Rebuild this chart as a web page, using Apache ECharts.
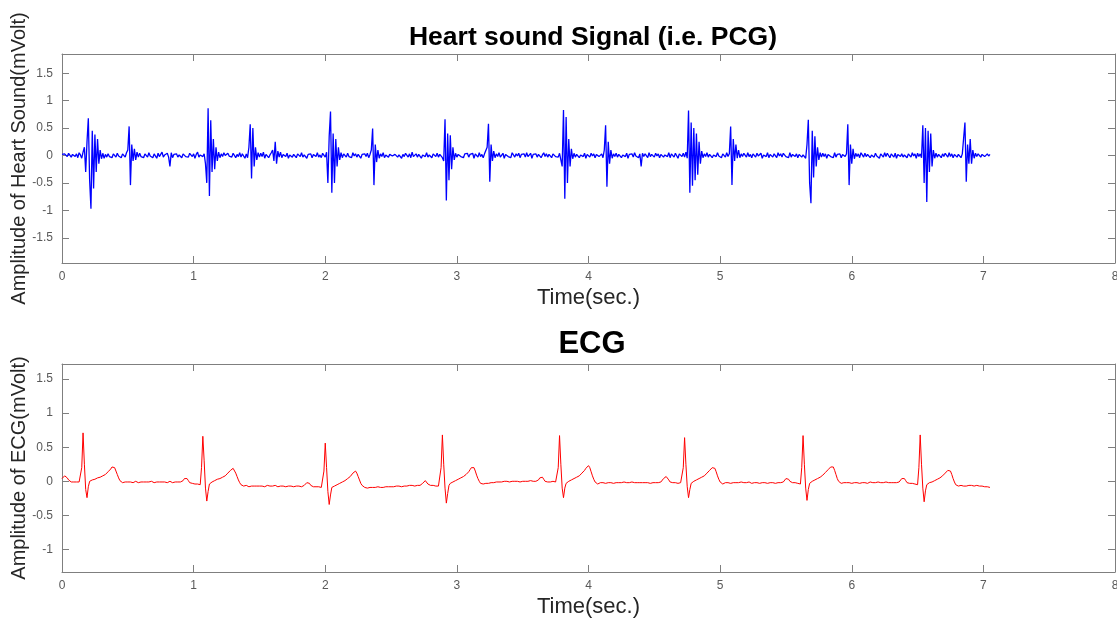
<!DOCTYPE html>
<html><head><meta charset="utf-8">
<script src="https://cdn.jsdelivr.net/npm/echarts@6/dist/echarts.min.js"></script>
<style>html,body{margin:0;padding:0;background:#fff}#c{width:1117px;height:623px}</style>
</head><body><div id="c"></div>
<script>
// sample spacing of both recordings, seconds
const sampleStep = 0.01;
const xTicks = [0, 1, 2, 3, 4, 5, 6, 7, 8];
const pcgTicks = [-1.5, -1, -0.5, 0, 0.5, 1, 1.5];
const ecgTicks = [-1, -0.5, 0, 0.5, 1, 1.5];

// Heart sound (PCG) amplitude, one row per 0.1 s
const pcgAmp = [
0.02,-0.01,0.03,0.00,-0.02,0.04,0.01,-0.03,0.02,0.00,
-0.02,0.03,-0.04,0.05,0.01,-0.05,0.06,0.15,-0.30,0.25,
0.68,-0.45,-0.97,0.45,-0.60,0.38,-0.30,0.30,-0.15,0.10,
-0.06,0.04,-0.05,0.02,-0.03,0.03,-0.02,0.01,-0.04,0.03,
0.00,-0.03,0.04,-0.01,0.02,-0.04,0.03,0.01,-0.03,0.05,
0.10,0.53,-0.54,0.20,-0.10,0.12,-0.08,0.06,-0.03,0.04,
-0.02,0.01,-0.04,0.03,0.02,-0.03,0.05,-0.01,0.02,-0.04,
0.03,0.00,-0.05,0.04,-0.02,0.02,0.06,-0.03,0.01,-0.02,
0.04,-0.03,-0.20,0.05,-0.04,0.02,-0.01,0.03,-0.03,0.01,
0.02,-0.04,0.03,0.05,-0.02,0.00,-0.03,0.04,0.01,-0.02,
0.03,-0.05,0.02,0.06,-0.03,0.01,0.04,-0.02,0.03,-0.15,
-0.50,0.86,-0.74,0.64,-0.30,0.30,-0.25,0.15,-0.10,0.06,
-0.04,0.03,-0.02,0.05,0.00,-0.03,0.04,-0.01,0.02,-0.03,
0.04,0.01,-0.04,0.02,-0.02,0.05,-0.03,0.03,0.01,-0.05,
0.03,-0.04,0.15,0.57,-0.42,0.50,-0.20,0.15,-0.08,0.05,
-0.03,0.04,-0.02,0.06,-0.05,0.02,0.03,-0.04,0.01,0.05,
0.10,-0.10,0.25,-0.15,0.08,-0.03,0.06,-0.04,0.02,0.03,
-0.02,0.04,-0.05,0.01,0.03,-0.03,0.02,0.00,-0.04,0.03,
0.02,-0.02,0.05,-0.03,0.01,0.04,-0.05,0.02,-0.01,0.03,
-0.04,0.02,0.03,-0.02,0.05,-0.03,0.01,-0.04,0.04,0.02,
-0.03,0.06,-0.50,0.35,0.80,-0.68,0.40,-0.50,0.30,-0.20,
0.15,-0.08,0.05,-0.04,0.03,0.02,-0.03,0.04,-0.02,0.01,
-0.04,0.05,-0.01,0.03,-0.03,0.02,0.04,-0.05,0.02,0.00,
0.03,-0.02,0.04,-0.04,0.02,0.10,0.49,-0.54,0.20,-0.12,
0.10,-0.05,0.03,-0.02,0.05,-0.04,0.01,0.03,-0.03,0.02,
0.04,-0.01,-0.04,0.02,0.05,-0.03,0.01,0.03,-0.05,0.02,
-0.02,0.04,0.01,-0.03,0.03,-0.04,0.06,-0.02,0.00,0.03,
-0.03,0.02,0.04,-0.05,0.01,0.03,-0.02,0.05,-0.03,0.01,
0.02,-0.04,0.03,0.00,-0.02,0.04,-0.03,0.02,0.05,-0.04,
-0.10,0.66,-0.82,0.40,-0.45,0.37,-0.25,0.15,-0.08,0.04,
-0.03,0.02,0.05,-0.02,0.01,-0.04,0.03,0.00,0.04,-0.03,
0.02,-0.01,0.04,-0.05,0.03,0.01,-0.03,0.05,-0.02,0.02,
-0.04,0.03,0.01,0.15,0.58,-0.48,0.20,-0.10,0.08,-0.04,
0.03,-0.02,0.05,-0.03,0.00,0.04,-0.05,0.02,0.03,-0.02,
0.01,-0.04,0.05,0.02,-0.03,0.03,-0.01,0.04,-0.04,0.02,
0.00,0.03,-0.03,0.05,-0.02,0.01,0.04,-0.05,0.02,-0.01,
0.03,-0.03,0.02,0.04,-0.04,0.01,0.05,-0.02,0.03,-0.03,
0.02,0.00,-0.04,0.03,0.05,-0.02,0.01,-0.03,0.04,0.02,
-0.20,0.83,-0.79,0.70,-0.50,0.30,-0.20,0.12,-0.06,0.04,
-0.03,0.02,0.05,-0.04,0.01,0.03,-0.02,0.04,-0.05,0.02,
0.01,-0.03,0.04,-0.01,0.03,-0.04,0.02,0.05,-0.02,0.00,
0.03,-0.04,0.10,0.55,-0.57,0.25,-0.15,0.10,-0.05,0.03,
-0.02,0.04,-0.03,0.02,0.05,-0.04,0.01,0.03,-0.02,0.04,
-0.05,0.02,0.00,0.03,-0.03,0.05,-0.01,0.02,-0.04,0.03,
-0.20,0.04,-0.02,0.03,0.01,-0.04,0.05,-0.02,0.02,0.00,
-0.03,0.04,-0.01,0.03,-0.04,0.02,0.05,-0.03,0.01,0.02,
-0.02,0.05,-0.04,0.03,0.00,-0.03,0.04,0.02,-0.05,0.03,
0.01,-0.02,0.04,-0.03,0.06,-0.05,0.82,-0.68,0.60,-0.55,
0.50,-0.45,0.40,-0.35,0.25,-0.15,0.08,-0.04,0.03,-0.02,
0.05,-0.03,0.02,0.04,-0.04,0.01,0.03,-0.02,0.05,-0.01,
0.02,-0.04,0.03,0.00,-0.03,0.05,-0.02,0.03,0.53,-0.54,
0.30,-0.10,0.20,-0.05,0.10,-0.04,0.03,-0.02,0.04,0.01,
-0.03,0.05,-0.02,0.02,-0.04,0.03,0.01,-0.03,0.04,-0.01,
0.02,0.04,-0.05,0.01,0.03,-0.02,0.05,-0.04,0.02,0.00,
-0.03,0.03,0.02,-0.04,0.05,-0.01,0.03,-0.03,0.04,0.02,
-0.02,0.01,-0.04,0.05,-0.03,0.02,0.04,-0.02,0.03,-0.04,
0.02,0.05,-0.03,0.01,0.04,-0.05,0.20,0.65,-0.50,-0.87,
0.45,-0.40,0.35,-0.20,0.15,-0.08,0.05,-0.03,0.04,-0.02,
0.03,-0.05,0.02,0.04,-0.02,0.01,-0.04,0.05,-0.03,0.02,
0.00,0.03,-0.04,0.02,0.05,-0.02,0.03,0.57,-0.54,0.20,
-0.15,0.12,-0.06,0.04,-0.02,0.03,-0.04,0.05,0.01,-0.03,
0.04,-0.02,0.02,0.05,-0.04,0.01,0.03,-0.03,0.04,-0.01,
0.02,-0.05,0.03,0.01,-0.03,0.05,-0.02,0.04,0.00,-0.04,
0.03,0.02,-0.03,0.04,-0.05,0.02,0.05,-0.02,0.03,-0.03,
0.01,0.04,-0.04,0.03,0.02,-0.03,0.05,-0.01,0.03,-0.05,
0.04,-0.02,0.03,-0.04,0.55,-0.50,0.50,-0.85,0.45,-0.30,
0.40,-0.20,0.10,-0.05,0.04,-0.03,0.02,0.05,-0.04,0.03,
-0.02,0.04,0.01,-0.03,0.05,-0.02,0.03,-0.04,0.02,0.04,
-0.03,0.02,0.05,-0.04,0.03,0.01,0.60,-0.48,0.20,-0.15,
0.30,-0.15,0.10,-0.05,0.04,-0.02,0.03,0.01,-0.03,0.02,
0.04,-0.02,0.01,0.03,-0.01,0.02
];

// ECG amplitude, one row per 0.1 s
const ecgAmp = [
0.04,0.06,0.08,0.07,0.05,0.02,0.00,-0.01,0.00,-0.01,
0.00,-0.01,0.00,-0.01,-0.03,0.20,0.71,0.25,-0.12,-0.24,
-0.08,0.00,0.01,0.02,0.02,0.03,0.04,0.05,0.05,0.06,
0.07,0.08,0.09,0.10,0.12,0.14,0.16,0.18,0.21,0.22,
0.20,0.15,0.10,0.05,0.01,-0.01,-0.02,-0.02,-0.01,-0.02,
-0.01,-0.02,-0.01,-0.01,-0.02,-0.01,0.00,-0.01,-0.02,-0.01,
-0.01,-0.02,-0.01,0.00,-0.01,-0.02,-0.01,-0.01,0.00,-0.01,
-0.02,-0.01,-0.01,-0.02,-0.01,0.00,-0.01,-0.02,-0.01,-0.01,
-0.02,-0.01,0.00,-0.01,-0.02,-0.01,-0.01,-0.02,-0.01,0.00,
-0.01,-0.01,0.01,0.04,0.06,0.04,0.01,-0.02,-0.03,-0.03,
-0.03,-0.04,-0.03,-0.04,-0.03,-0.05,0.20,0.66,0.30,-0.10,
-0.29,-0.15,-0.04,-0.02,-0.01,0.00,0.01,0.02,0.03,0.04,
0.04,0.05,0.06,0.07,0.08,0.10,0.12,0.14,0.16,0.18,
0.19,0.17,0.12,0.07,0.02,-0.02,-0.05,-0.06,-0.07,-0.07,
-0.06,-0.07,-0.08,-0.07,-0.07,-0.06,-0.07,-0.08,-0.07,-0.07,
-0.07,-0.06,-0.07,-0.07,-0.08,-0.07,-0.06,-0.07,-0.07,-0.08,
-0.07,-0.07,-0.06,-0.07,-0.08,-0.07,-0.07,-0.06,-0.07,-0.07,
-0.08,-0.07,-0.07,-0.06,-0.07,-0.07,-0.08,-0.07,-0.07,-0.06,
-0.07,-0.07,-0.08,-0.07,-0.06,-0.04,-0.02,-0.01,-0.03,-0.06,
-0.08,-0.08,-0.09,-0.08,-0.09,-0.08,-0.09,-0.09,-0.10,0.15,
0.56,0.20,-0.15,-0.34,-0.20,-0.09,-0.08,-0.07,-0.06,-0.05,
-0.04,-0.03,-0.02,-0.01,0.00,0.01,0.02,0.04,0.05,0.07,
0.09,0.12,0.14,0.15,0.12,0.07,0.02,-0.03,-0.06,-0.08,
-0.09,-0.09,-0.10,-0.09,-0.09,-0.10,-0.09,-0.08,-0.09,-0.09,
-0.08,-0.09,-0.09,-0.08,-0.09,-0.08,-0.08,-0.09,-0.08,-0.08,
-0.08,-0.07,-0.08,-0.08,-0.07,-0.08,-0.07,-0.07,-0.08,-0.07,
-0.07,-0.06,-0.07,-0.07,-0.06,-0.07,-0.06,-0.06,-0.07,-0.06,
-0.06,-0.05,-0.06,-0.05,-0.03,-0.01,0.01,-0.01,-0.04,-0.06,
-0.06,-0.07,-0.06,-0.07,-0.07,-0.06,-0.07,-0.08,0.20,0.68,
0.25,-0.10,-0.32,-0.18,-0.06,-0.03,-0.02,-0.01,0.00,0.01,
0.02,0.03,0.04,0.05,0.06,0.07,0.08,0.10,0.12,0.14,
0.17,0.20,0.22,0.20,0.15,0.09,0.04,0.00,-0.03,-0.04,
-0.04,-0.03,-0.03,-0.02,-0.03,-0.02,-0.02,-0.01,-0.02,-0.01,
-0.01,-0.02,-0.01,0.00,-0.01,-0.01,0.00,-0.01,0.00,0.00,
-0.01,0.00,0.00,-0.01,0.00,0.01,0.00,0.00,-0.01,0.00,
0.00,0.01,0.00,-0.01,0.00,0.00,0.01,0.00,0.00,-0.01,
0.00,0.00,0.02,0.05,0.07,0.06,0.03,0.00,-0.01,-0.01,
0.00,-0.01,-0.01,0.00,-0.01,-0.01,-0.03,0.20,0.67,0.25,
-0.10,-0.24,-0.10,-0.03,-0.01,0.00,0.01,0.02,0.03,0.04,
0.05,0.06,0.07,0.08,0.10,0.12,0.14,0.16,0.19,0.21,
0.23,0.20,0.14,0.08,0.03,-0.01,-0.03,-0.04,-0.03,-0.02,
-0.03,-0.02,-0.02,-0.03,-0.02,-0.02,-0.01,-0.02,-0.02,-0.03,
-0.02,-0.02,-0.01,-0.02,-0.03,-0.02,-0.02,-0.01,-0.02,-0.02,
-0.03,-0.02,-0.02,-0.01,-0.02,-0.02,-0.03,-0.02,-0.01,-0.02,
-0.02,-0.02,-0.03,-0.02,-0.01,-0.02,-0.02,-0.03,-0.02,-0.02,
-0.01,-0.02,-0.02,-0.02,-0.01,-0.01,0.01,0.04,0.06,0.07,
0.05,0.02,-0.01,-0.02,-0.02,-0.03,-0.02,-0.02,-0.03,-0.02,
-0.02,-0.04,0.20,0.64,0.25,-0.08,-0.24,-0.12,-0.03,-0.01,
0.00,0.01,0.02,0.03,0.04,0.05,0.06,0.07,0.08,0.10,
0.12,0.14,0.16,0.18,0.20,0.21,0.19,0.14,0.08,0.03,
-0.01,-0.03,-0.04,-0.03,-0.02,-0.03,-0.02,-0.02,-0.03,-0.02,
-0.02,-0.01,-0.02,-0.03,-0.02,-0.02,-0.01,-0.02,-0.02,-0.03,
-0.02,-0.02,-0.01,-0.02,-0.03,-0.02,-0.02,-0.01,-0.02,-0.02,
-0.03,-0.02,-0.02,-0.01,-0.02,-0.02,-0.03,-0.02,-0.02,-0.01,
-0.02,-0.02,-0.03,-0.02,-0.02,-0.01,-0.02,-0.02,-0.01,0.01,
0.04,0.05,0.03,0.00,-0.02,-0.02,-0.03,-0.02,-0.02,-0.03,
-0.02,-0.04,0.20,0.67,0.25,-0.10,-0.28,-0.12,-0.03,-0.01,
0.00,0.01,0.02,0.03,0.04,0.05,0.06,0.07,0.09,0.11,
0.13,0.15,0.17,0.19,0.21,0.23,0.21,0.16,0.10,0.04,
0.00,-0.02,-0.03,-0.02,-0.02,-0.03,-0.02,-0.01,-0.02,-0.02,
-0.03,-0.02,-0.02,-0.01,-0.02,-0.02,-0.03,-0.02,-0.02,-0.01,
-0.02,-0.02,-0.03,-0.02,-0.01,-0.02,-0.02,-0.03,-0.02,-0.02,
-0.01,-0.02,-0.02,-0.03,-0.02,-0.02,-0.01,-0.02,-0.02,-0.03,
-0.02,-0.02,-0.02,-0.01,-0.02,-0.02,-0.01,0.01,0.04,0.06,
0.04,0.01,-0.02,-0.03,-0.03,-0.02,-0.03,-0.03,-0.04,-0.03,
-0.05,0.20,0.68,0.25,-0.10,-0.30,-0.14,-0.05,-0.03,-0.02,
-0.02,-0.01,0.00,0.01,0.02,0.03,0.04,0.05,0.06,0.08,
0.10,0.12,0.14,0.16,0.17,0.15,0.10,0.04,-0.01,-0.05,
-0.06,-0.07,-0.07,-0.06,-0.07,-0.07,-0.06,-0.07,-0.07,-0.06,
-0.07,-0.06,-0.07,-0.07,-0.06,-0.06,-0.07,-0.07,-0.06,-0.07,
-0.07,-0.08,-0.07,-0.08,-0.08,-0.09
];

const axisColor = '#7f7f7f';
const labelColor = '#595959';
const font = 'Liberation Sans, Arial, Helvetica, sans-serif';

function toPairs(arr) {
  return arr.map((v, i) => [+(i * sampleStep).toFixed(2), v]);
}

function xAxisPair(grid) {
  const base = {
    gridIndex: grid, type: 'value', min: xTicks[0], max: xTicks[xTicks.length - 1], interval: 1,
    axisLine: { show: true, onZero: false, lineStyle: { color: axisColor, width: 1 } },
    axisTick: { show: true, inside: true, length: 7, lineStyle: { color: axisColor } },
    splitLine: { show: false }
  };
  return [
    Object.assign({}, base, {
      position: 'bottom',
      axisLabel: { color: labelColor, fontSize: 12, fontFamily: font, margin: 8 },
      name: 'Time(sec.)', nameLocation: 'middle', nameGap: 24, nameMoveOverlap: false,
      nameTextStyle: { fontSize: 22, color: '#262626', fontFamily: font }
    }),
    Object.assign({}, base, { position: 'top', axisLabel: { show: false } })
  ];
}

function yAxisPair(grid, min, max, ticks, name) {
  const base = {
    gridIndex: grid, type: 'value', min: min, max: max,
    axisLine: { show: true, onZero: false, lineStyle: { color: axisColor, width: 1 } },
    axisTick: { show: true, inside: true, length: 7, customValues: ticks, lineStyle: { color: axisColor } },
    splitLine: { show: false }
  };
  return [
    Object.assign({}, base, {
      position: 'left',
      axisLabel: { color: labelColor, fontSize: 12, fontFamily: font, margin: 9, customValues: ticks },
      name: name, nameLocation: 'middle', nameGap: 33, nameRotate: 90, nameMoveOverlap: false,
      nameTextStyle: { fontSize: 20, color: '#262626', fontFamily: font }
    }),
    Object.assign({}, base, { position: 'right', axisLabel: { show: false } })
  ];
}

const chart = echarts.init(document.getElementById('c'), null, { renderer: 'canvas' });
chart.setOption({
  animation: false,
  backgroundColor: '#ffffff',
  title: [
    { text: 'Heart sound Signal (i.e. PCG)', left: 588, top: 19, textAlign: 'center',
      textStyle: { fontSize: 26.5, fontWeight: 'bold', color: '#000', fontFamily: font } },
    { text: 'ECG', left: 587, top: 324, textAlign: 'center',
      textStyle: { fontSize: 31, fontWeight: 'bold', color: '#000', fontFamily: font } }
  ],
  grid: [
    { left: 62, right: 2, top: 54, height: 209, outerBoundsMode: 'none', containLabel: false },
    { left: 62, right: 2, top: 364, height: 208, outerBoundsMode: 'none', containLabel: false }
  ],
  xAxis: xAxisPair(0).concat(xAxisPair(1)),
  yAxis: yAxisPair(0, -1.96, 1.85, pcgTicks, 'Amplitude of Heart Sound(mVolt)')
    .concat(yAxisPair(1, -1.33, 1.72, ecgTicks, 'Amplitude of ECG(mVolt)')),
  series: [
    { type: 'line', xAxisIndex: 0, yAxisIndex: 0, data: toPairs(pcgAmp), showSymbol: false,
      sampling: null, lineStyle: { color: '#0000ff', width: 1.3 }, itemStyle: { color: '#0000ff' } },
    { type: 'line', xAxisIndex: 2, yAxisIndex: 2, data: toPairs(ecgAmp), showSymbol: false,
      sampling: null, lineStyle: { color: '#ff0000', width: 1 }, itemStyle: { color: '#ff0000' } }
  ]
});
</script>
</body></html>
